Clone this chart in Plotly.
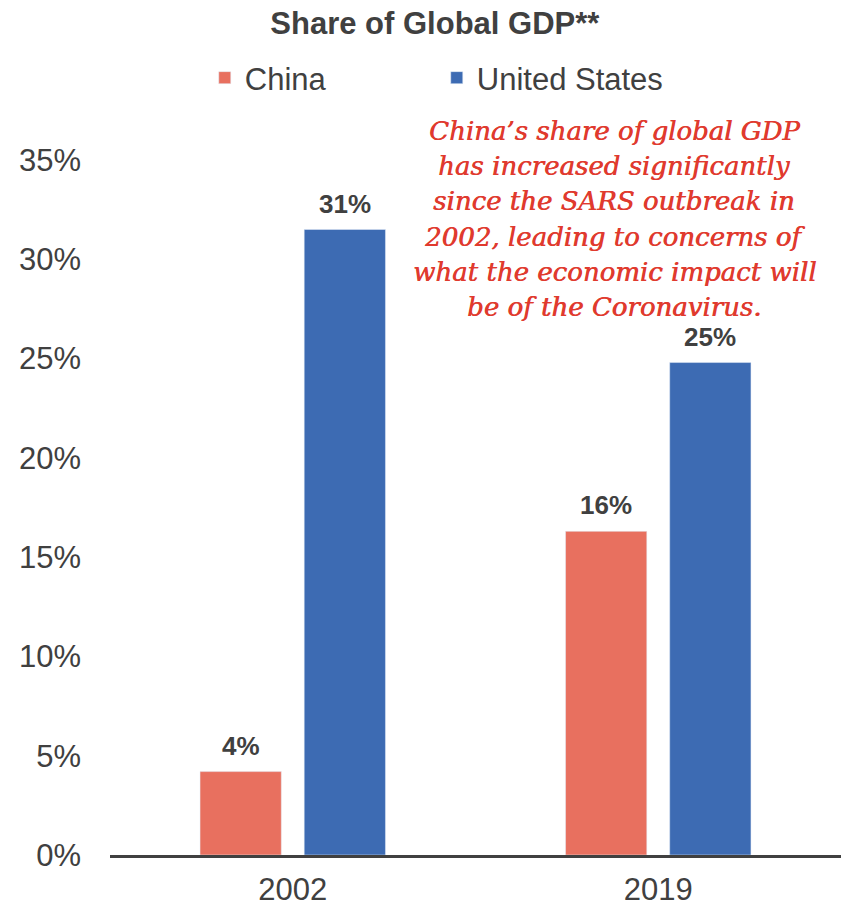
import plotly.graph_objects as go

years = ["2002", "2019"]
china_share = [4.2, 16.3]
us_share = [31.5, 24.8]
china_labels = ["4%", "16%"]
us_labels = ["31%", "25%"]
y_ticks = [0, 5, 10, 15, 20, 25, 30, 35]
note_lines = [
    "China\u2019s share of global GDP",
    "has increased significantly",
    "since the SARS outbreak in",
    "2002, leading to concerns of",
    "what the economic impact will",
    "be of the Coronavirus.",
]

CHINA_COLOR = "#E8705F"
US_COLOR = "#3D6BB3"
TEXT_COLOR = "#404040"
NOTE_COLOR = "#E03A2E"

fig = go.Figure()
fig.add_trace(go.Bar(name="China", x=years, y=china_share, marker_color=CHINA_COLOR))
fig.add_trace(go.Bar(name="United States", x=years, y=us_share, marker_color=US_COLOR))

# value labels above each bar
for trace_idx, (vals, labels) in enumerate([(china_share, china_labels), (us_share, us_labels)]):
    for i, (v, lab) in enumerate(zip(vals, labels)):
        fig.add_annotation(
            x=i, y=v, text=f"<b>{lab}</b>", showarrow=False,
            xshift=(-52 if trace_idx == 0 else 52), yshift=26,
            font=dict(family="Liberation Sans, Arial", size=26, color=TEXT_COLOR),
        )

# commentary block, one annotation per line for even spacing
for k, line in enumerate(note_lines):
    fig.add_annotation(
        xref="paper", yref="paper", x=0.69, y=1.0, xanchor="center", yanchor="middle",
        yshift=29 - 35.2 * k,
        text=line, showarrow=False, align="center",
        font=dict(family="DejaVu Serif", size=26, color=NOTE_COLOR, style="italic",
                  shadow=f"0.6px 0px 0px {NOTE_COLOR}"),
    )

fig.update_layout(
    width=846, height=908,
    margin=dict(l=110, r=5, t=160, b=53),
    paper_bgcolor="white", plot_bgcolor="white",
    barmode="group", bargap=0.43, bargroupgap=0.22,
    title=dict(text="<b>Share of Global GDP**</b>", x=0.514, xanchor="center", y=0.975,
               yanchor="middle", font=dict(family="Liberation Sans, Arial", size=31, color=TEXT_COLOR)),
    legend=dict(orientation="h", x=0.447, xanchor="center", y=1.118, yanchor="middle",
                font=dict(family="Liberation Sans, Arial", size=31, color=TEXT_COLOR),
                entrywidth=187),
    showlegend=True,
)
fig.update_xaxes(type="category", showline=True, linecolor=TEXT_COLOR, linewidth=3,
                 ticks="outside", ticklen=5, tickcolor="rgba(0,0,0,0)", automargin=False,
                 tickfont=dict(family="Liberation Sans, Arial", size=31, color=TEXT_COLOR))
fig.update_yaxes(range=[0, 35], tickvals=y_ticks, ticktext=[f"{t}%" for t in y_ticks],
                 showgrid=False, zeroline=False, showline=False, automargin=False,
                 tickfont=dict(family="Liberation Sans, Arial", size=31, color=TEXT_COLOR),
                 ticklabelstandoff=28)

fig.write_html("out.html")
